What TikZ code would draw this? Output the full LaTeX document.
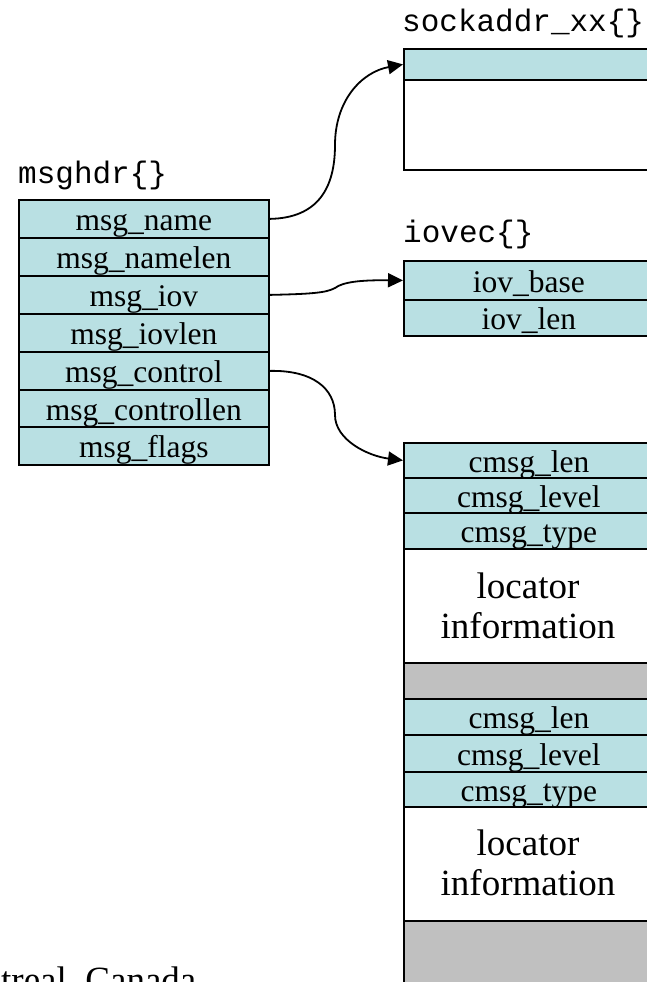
\documentclass[tikz,border=0pt]{standalone}
\usepackage{fontspec}
\setmainfont{Liberation Serif}
\setmonofont{Liberation Mono}
\usetikzlibrary{arrows.meta}
\definecolor{cell}{RGB}{185,224,227}
\definecolor{padgray}{RGB}{192,192,192}
\begin{document}
\begin{tikzpicture}[x=1pt,y=-1pt,
  rowbox/.style={draw=black,line width=1.8pt,fill=cell,anchor=north west,
    minimum width=250pt,inner sep=0pt,text height=24pt,text depth=0pt,
    font=\fontsize{31.5}{36}\selectfont},
  plainbox/.style={draw=black,line width=1.8pt,fill=white,anchor=north west,
    minimum width=250pt,inner sep=0pt},
  graybox/.style={plainbox,fill=padgray},
  structlabel/.style={anchor=base west,inner sep=0pt,font=\ttfamily\fontsize{31}{36}\selectfont},
  loctext/.style={anchor=base,inner sep=0pt,font=\fontsize{37}{40}\selectfont},
  link/.style={line width=1.8pt,-{Triangle[length=15pt,width=14pt]}}]
\useasboundingbox (0,0) rectangle (647,982);
\clip (0,0) rectangle (647,982);
\fill[white] (0,0) rectangle (647,982);

% msghdr
\node[structlabel] (lmsghdr) at (18,183) {msghdr\{\}};
\node[rowbox,minimum height=38pt] (m1) at (18,199) {msg\_name};
\node[rowbox,minimum height=38pt] (m2) at (18,237) {msg\_namelen};
\node[rowbox,minimum height=38pt] (m3) at (18,275) {msg\_iov};
\node[rowbox,minimum height=38pt] (m4) at (18,313) {msg\_iovlen};
\node[rowbox,minimum height=38pt] (m5) at (18,351) {msg\_control};
\node[rowbox,minimum height=37pt] (m6) at (18,389) {msg\_controllen};
\node[rowbox,minimum height=38pt] (m7) at (18,426) {msg\_flags};

% sockaddr
\node[structlabel] (lsock) at (402,32) {sockaddr\_xx\{\}};
\node[rowbox,minimum height=31pt] (s1) at (403,48) {};
\node[plainbox,minimum height=90pt] (s2) at (403,79) {};

% iovec
\node[structlabel] (liovec) at (403,242) {iovec\{\}};
\node[rowbox,minimum height=39pt] (i1) at (403,260) {iov\_base};
\node[rowbox,minimum height=36pt] (i2) at (403,299) {iov\_len};

% cmsg area
\node[rowbox,minimum height=35pt] (c1) at (403,442) {cmsg\_len};
\node[rowbox,minimum height=35pt] (c2) at (403,477) {cmsg\_level};
\node[rowbox,minimum height=36pt] (c3) at (403,512) {cmsg\_type};
\node[plainbox,minimum height=114pt] (c4) at (403,548) {};
\node[loctext] (c4a) at (528,598) {locator};
\node[loctext] (c4b) at (528,638) {information};
\node[graybox,minimum height=36pt] (c5) at (403,662) {};
\node[rowbox,minimum height=36pt] (c6) at (403,698) {cmsg\_len};
\node[rowbox,minimum height=37pt] (c7) at (403,734) {cmsg\_level};
\node[rowbox,minimum height=35pt] (c8) at (403,771) {cmsg\_type};
\node[plainbox,minimum height=114pt] (c9) at (403,806) {};
\node[loctext] (c9a) at (528,855) {locator};
\node[loctext] (c9b) at (528,895) {information};
\node[graybox,minimum height=90pt] (c10) at (403,920) {};

% footer
\node[anchor=base west,inner sep=0pt,font=\fontsize{37}{40}\selectfont] (foot) at (1,992) {treal, Canada};

% connectors
\coordinate (k1) at (335,145);
\coordinate (k2) at (335,288);
\coordinate (k3) at (335,415);
\draw[link] (m1.east) .. controls (318,218) and (335,188) .. (k1)
  .. controls (335,100) and (362,72) .. (s1.west);
\draw[link] (m3.east) .. controls (310,294) and (326,293) .. (k2)
  .. controls (343,282) and (360,280) .. (i1.west);
\draw[link] (m5.east) .. controls (312,370) and (335,388) .. (k3)
  .. controls (335,440) and (368,456) .. (c1.west);
\end{tikzpicture}
\end{document}
